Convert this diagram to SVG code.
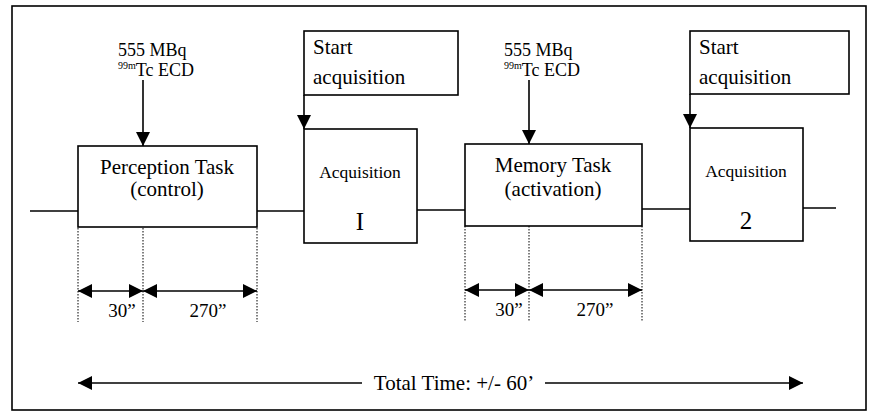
<svg xmlns="http://www.w3.org/2000/svg" width="876" height="414" viewBox="0 0 876 414">
<style>
.box{fill:#fff;stroke:#000;stroke-width:1.6}
.ln{stroke:#000;stroke-width:1.6;fill:none}
.dot{stroke:#000;stroke-width:1;stroke-dasharray:1.5 1.5;fill:none}
</style>
<defs>
<marker id="ah" viewBox="0 0 10 10" refX="10" refY="5" markerWidth="14" markerHeight="14" markerUnits="userSpaceOnUse" orient="auto-start-reverse">
<path d="M0,0 L10,5 L0,10 Z" fill="#000"/>
</marker>
</defs>
<rect x="12" y="6" width="854" height="404" fill="#fff" stroke="#000" stroke-width="1.6"/>
<g id="connectors">
<line class="ln" x1="30" y1="211" x2="78" y2="211"/>
<line class="ln" x1="257" y1="211" x2="304" y2="211"/>
<line class="ln" x1="417" y1="210" x2="465" y2="210"/>
<line class="ln" x1="642" y1="209" x2="690" y2="209"/>
<line class="ln" x1="803" y1="208" x2="836" y2="208"/>
<line class="ln" x1="143" y1="80" x2="143" y2="146" marker-end="url(#ah)"/>
<line class="ln" x1="529" y1="80" x2="529" y2="144" marker-end="url(#ah)"/>
<line class="ln" x1="304" y1="95" x2="304" y2="129" marker-end="url(#ah)"/>
<line class="ln" x1="690" y1="94" x2="690" y2="128" marker-end="url(#ah)"/>
<line class="dot" x1="78" y1="228" x2="78" y2="322"/>
<line class="dot" x1="143" y1="228" x2="143" y2="322"/>
<line class="dot" x1="257" y1="228" x2="257" y2="322"/>
<line class="dot" x1="465" y1="226" x2="465" y2="322"/>
<line class="dot" x1="529" y1="226" x2="529" y2="322"/>
<line class="dot" x1="642" y1="226" x2="642" y2="322"/>
<line class="ln" x1="78" y1="291" x2="143" y2="291" marker-start="url(#ah)" marker-end="url(#ah)"/>
<line class="ln" x1="143" y1="291" x2="257" y2="291" marker-start="url(#ah)" marker-end="url(#ah)"/>
<line class="ln" x1="465" y1="290" x2="529" y2="290" marker-start="url(#ah)" marker-end="url(#ah)"/>
<line class="ln" x1="529" y1="290" x2="642" y2="290" marker-start="url(#ah)" marker-end="url(#ah)"/>
<line class="ln" x1="78" y1="383" x2="362" y2="383" marker-start="url(#ah)"/>
<line class="ln" x1="545" y1="383" x2="803" y2="383" marker-end="url(#ah)"/>
</g>
<g id="dose1" font-family="Liberation Serif, Times New Roman, serif" fill="#000">
<text x="118" y="56" font-size="18">555 MBq</text>
<text x="118" y="76" font-size="18"><tspan font-size="10" dy="-7">99m</tspan><tspan dy="7">Tc ECD</tspan></text>
</g>
<g id="dose2" font-family="Liberation Serif, Times New Roman, serif" fill="#000">
<text x="504" y="56" font-size="18">555 MBq</text>
<text x="504" y="76" font-size="18"><tspan font-size="10" dy="-7">99m</tspan><tspan dy="7">Tc ECD</tspan></text>
</g>
<g id="start1" font-family="Liberation Serif, Times New Roman, serif" fill="#000">
<rect class="box" x="304" y="31" width="154" height="64"/>
<text x="313" y="54" font-size="21">Start</text>
<text x="313" y="84" font-size="21">acquisition</text>
</g>
<g id="start2" font-family="Liberation Serif, Times New Roman, serif" fill="#000">
<rect class="box" x="690" y="31" width="159" height="63"/>
<text x="699" y="54" font-size="21">Start</text>
<text x="699" y="84" font-size="21">acquisition</text>
</g>
<g id="perception" font-family="Liberation Serif, Times New Roman, serif" fill="#000">
<rect class="box" x="78" y="146" width="179" height="81"/>
<text x="167" y="174" text-anchor="middle" font-size="21">Perception Task</text>
<text x="167" y="196" text-anchor="middle" font-size="21">(control)</text>
</g>
<g id="acq1" font-family="Liberation Serif, Times New Roman, serif" fill="#000">
<rect class="box" x="304" y="129" width="113" height="114"/>
<text x="360" y="178" text-anchor="middle" font-size="17.5">Acquisition</text>
<text x="360" y="230" text-anchor="middle" font-size="25">I</text>
</g>
<g id="memory" font-family="Liberation Serif, Times New Roman, serif" fill="#000">
<rect class="box" x="465" y="144" width="177" height="82"/>
<text x="553" y="172" text-anchor="middle" font-size="21">Memory Task</text>
<text x="553" y="196" text-anchor="middle" font-size="21">(activation)</text>
</g>
<g id="acq2" font-family="Liberation Serif, Times New Roman, serif" fill="#000">
<rect class="box" x="690" y="128" width="113" height="113"/>
<text x="746" y="177" text-anchor="middle" font-size="17.5">Acquisition</text>
<text x="746" y="229" text-anchor="middle" font-size="25">2</text>
</g>
<g id="durations" font-family="Liberation Serif, Times New Roman, serif" fill="#000">
<text x="122" y="317" text-anchor="middle" font-size="19">30”</text>
<text x="208" y="317" text-anchor="middle" font-size="19">270”</text>
<text x="509" y="316" text-anchor="middle" font-size="19">30”</text>
<text x="595" y="316" text-anchor="middle" font-size="19">270”</text>
</g>
<g id="total" font-family="Liberation Serif, Times New Roman, serif" fill="#000">
<text x="454" y="390" text-anchor="middle" font-size="21">Total Time: +/- 60’</text>
</g>
</svg>
